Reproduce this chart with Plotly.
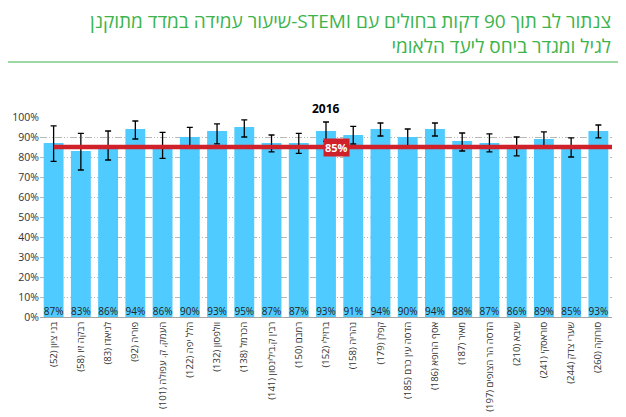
import plotly.graph_objects as go

categories = [
    "בני ציון (52)", "רבקה זיו (58)", "לניאדו (83)", "פוריה (92)",
    "העמק, ק. עפולה (101)", "הלל יפה (122)", "וולפסון (132)", "הכרמל (138)",
    "רבין ק.בילינסון (141)", "רמבם (150)", "ברזילי (152)", "נהריה (158)",
    "קפלן (179)", "הדסה עין כרם (185)", "אסף הרופא (186)", "מאיר (187)",
    "הדסה הר הצופים (197)", "שיבא (210)", "סוראסקי (241)", "שערי צדק (244)",
    "סורוקה (260)",
]
values = [87, 83, 86, 94, 86, 90, 93, 95, 87, 87, 93, 91, 94, 90, 94, 88, 87, 86, 89, 85, 93]
upper = [95.6, 91.8, 93.0, 98.0, 92.3, 94.8, 96.6, 98.6, 91.0, 91.8, 97.5, 95.3, 97.0, 94.0, 97.0, 92.0, 91.6, 90.0, 92.6, 89.6, 96.0]
lower = [77.8, 73.5, 78.5, 89.0, 79.3, 84.6, 86.6, 90.0, 82.6, 81.8, 87.8, 86.5, 90.5, 85.5, 90.5, 83.0, 82.6, 80.6, 84.6, 80.0, 89.6]
target = 85
year = "2016"
title_line1 = "צנתור לב תוך 90 דקות בחולים עם STEMI-שיעור עמידה במדד מתוקנן"
title_line2 = "לגיל ומגדר ביחס ליעד הלאומי"
yticks = list(range(0, 101, 10))

RLE, PDF = "\u202b", "\u202c"
def rtl(s):
    return RLE + s + PDF

# page offset (default body margin of the html page)
OFF = 8
PL, PR, PT, PB = 40, 612, 117, 317  # plot area in page pixels
def px_x(p):
    return (p - PL) / (PR - PL)
def px_y(p):
    return (PB - p) / (PB - PT)

xpos = list(range(len(categories)))
err_plus = [u - v for u, v in zip(upper, values)]
err_minus = [v - l for v, l in zip(values, lower)]

fig = go.Figure()
fig.add_trace(go.Bar(
    x=xpos, y=values,
    marker=dict(color="#50cbff", line=dict(width=0)),
    error_y=dict(type="data", symmetric=False, array=err_plus, arrayminus=err_minus,
                 color="black", thickness=1.3, width=3),
    hoverinfo="skip",
))
fig.add_trace(go.Scatter(
    x=xpos, y=[0] * len(values), mode="text",
    text=[f"{v}%" for v in values], textposition="top center",
    textfont=dict(family="Open Sans", size=10, color="#222222"),
    hoverinfo="skip",
))

fig.add_shape(type="line", xref="x", yref="y", x0=0, x1=len(categories) - 0.45,
              y0=target, y1=target, line=dict(color="#d0202a", width=4.5), layer="above")

fig.add_annotation(xref="paper", yref="y", x=px_x(336.5), y=target,
                   text=f"<b>{target}%</b>", showarrow=False,
                   font=dict(family="Open Sans", size=11, color="white"),
                   bgcolor="#d0202a", borderpad=1)

fig.add_annotation(xref="paper", yref="paper", x=0.5, y=px_y(98),
                   text=f"<b>{year}</b>", showarrow=False,
                   font=dict(family="Open Sans", size=12, color="black"))

fig.add_annotation(xref="paper", yref="paper", x=px_x(613), y=px_y(33),
                   xanchor="right", yanchor="middle", align="right",
                   text=rtl(title_line1) + "<br>" + rtl(title_line2), showarrow=False,
                   font=dict(family="Open Sans", size=19, color="#3cb44b"))

fig.add_shape(type="line", xref="paper", yref="paper",
              x0=px_x(4), x1=px_x(620), y0=px_y(62), y1=px_y(62),
              line=dict(color="#3cb44b", width=1.2))

fig.update_layout(
    width=626 - OFF, height=417 - OFF,
    margin=dict(l=PL - OFF, r=626 - PR, t=PT - OFF, b=417 - PB, autoexpand=False),
    paper_bgcolor="white", plot_bgcolor="white",
    showlegend=False, bargap=0.27,
    font=dict(family="Open Sans", color="#333333"),
)
fig.update_xaxes(
    range=[-0.5, len(categories) - 0.5], automargin=False,
    tickmode="array", tickvals=xpos, ticktext=[rtl(c) for c in categories],
    tickangle=-90, tickfont=dict(family="Open Sans", size=9.5, color="#333333"),
    showgrid=False, showline=True, linecolor="#a6a6a6", linewidth=1, ticks="",
    zeroline=False,
)
fig.update_yaxes(
    range=[0, 100], tickmode="array", tickvals=yticks, automargin=False,
    ticktext=[f"{t}%" for t in yticks],
    tickfont=dict(family="Open Sans", size=10.5, color="#333333"),
    showgrid=True, gridcolor="#b8b8b8", gridwidth=1,
    griddash="7px,2px,1px,2px,1px,2px",
    zeroline=False, showline=False, ticks="",
)

fig.write_html("out.html")
